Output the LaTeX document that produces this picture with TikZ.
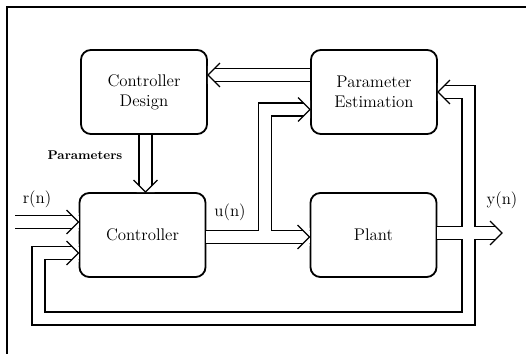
\documentclass[tikz,border=0pt]{standalone}
\usepackage{tikz}
\usetikzlibrary{arrows.meta,positioning,calc}
\tikzset{
  %% Block boxes
  blockbox/.style={
    rectangle, rounded corners=7pt,
    draw=black, line width=1.3pt, fill=white,
    minimum width=3.15cm, minimum height=2.1cm,
    align=center, font=\fontsize{12}{14.5}\selectfont},
  %% Signal labels
  siglabel/.style={font=\fontsize{12}{14}\selectfont, inner sep=0pt},
  %% Double (hollow) signal lines
  pipe/.style={double, double distance=8.3pt, line width=0.9pt, black},
  %% Open chevron head for the hollow lines
  chevtip/.pic={
    \fill[white] (0,0) -- (-9,9) -- (0,9) -- (0,-9) -- (-9,-9) -- cycle;
    \draw[line width=0.9pt] (-12,12) -- (0,0) -- (-12,-12);
  },
}
\begin{document}
\begin{tikzpicture}[x=0.025cm, y=0.025cm]
  \useasboundingbox (0,0) rectangle (526,354);
  \draw[line width=0.9pt] (7,0) -- (7,347) -- (526,347);

  \node[blockbox] (cd) at (144,262) {Controller\\ Design};
  \node[blockbox] (pe) at (374,262) {Parameter\\ Estimation};
  \node[blockbox] (ctrl) at (142.5,119) {Controller};
  \node[blockbox] (plant) at (373.5,119) {Plant};

  \coordinate (rin) at (15,132);
  \coordinate (uj) at (265,117);
  \coordinate (yout) at (502,121);
  \coordinate (fbr) at (468.5,35.5);
  \coordinate (fbl) at (38.5,101);

  %% hollow connectors
  \draw[pipe] ($(pe.west)+(0,17)$) -- ($(cd.east)+(0,17)$);
  \draw[pipe] ($(cd.south)+(1.5,0)$) -- ($(ctrl.north)+(3,0)$);
  \draw[pipe] (rin) -- (ctrl.west |- rin);
  \draw[pipe] (ctrl.east |- uj) -- (plant.west |- uj)
        (uj) |- ($(pe.west)+(0,-17.5)$);
  \draw[pipe] (pe.east) -| (fbr) -| (fbl) -- (ctrl.west |- fbl)
        (plant.east |- yout) -- (yout);

  %% heads
  \pic[rotate=180] at ($(cd.east)+(0,17)$) {chevtip};
  \pic[rotate=-90] at ($(ctrl.north)+(3,0)$) {chevtip};
  \pic at (ctrl.west |- rin) {chevtip};
  \pic at (plant.west |- uj) {chevtip};
  \pic at ($(pe.west)+(0,-17.5)$) {chevtip};
  \pic[rotate=180] at (pe.east) {chevtip};
  \pic at (ctrl.west |- fbl) {chevtip};
  \pic at (yout) {chevtip};

  \node[siglabel] (rlab) at (37,155) {r(n)};
  \node[siglabel] (ulab) at (230,142) {u(n)};
  \node[siglabel] (ylab) at (502,154) {y(n)};
  \node[font=\bfseries\fontsize{9}{11}\selectfont] (plab) at (85,199) {Parameters};
\end{tikzpicture}
\end{document}
